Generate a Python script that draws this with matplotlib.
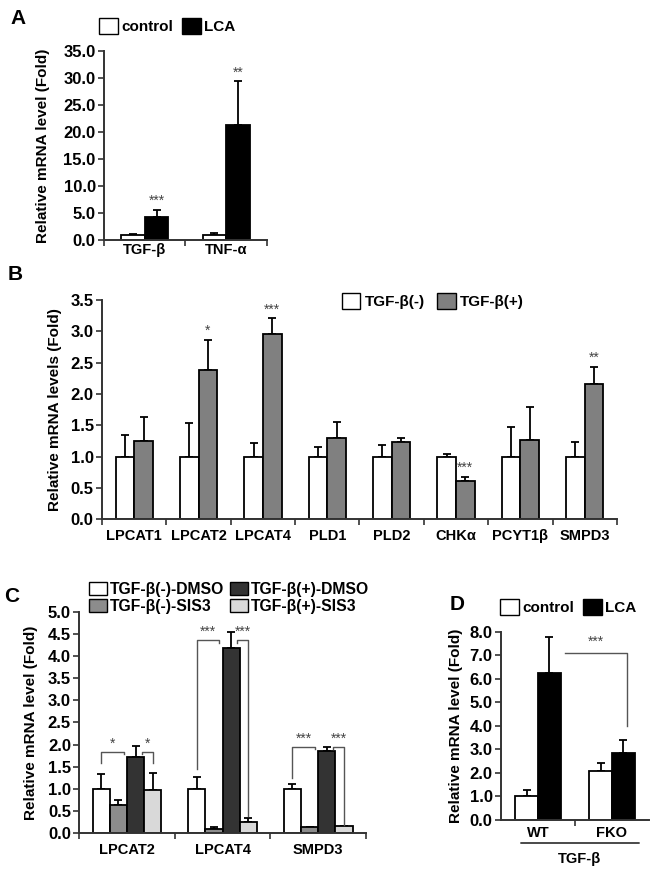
import numpy as np
import matplotlib
matplotlib.use('Agg')
import matplotlib.pyplot as plt
from matplotlib.patches import Patch

plt.rcParams['font.family'] = ['Liberation Sans', 'DejaVu Sans']
plt.rcParams['font.weight'] = 'bold'
plt.rcParams['axes.labelweight'] = 'bold'

# ---- Panel A ----
a_groups = ['TGF-β', 'TNF-α']
a_control = [1.0, 1.0]
a_control_err = [0.1, 0.35]
a_lca = [4.2, 21.3]
a_lca_err = [1.4, 8.1]
a_stars = ['***', '**']

# ---- Panel B ----
b_genes = ['LPCAT1', 'LPCAT2', 'LPCAT4', 'PLD1', 'PLD2', 'CHKα', 'PCYT1β', 'SMPD3']
b_minus = [1.0, 1.0, 1.0, 1.0, 1.0, 1.0, 1.0, 1.0]
b_minus_err = [0.34, 0.54, 0.22, 0.16, 0.18, 0.05, 0.47, 0.24]
b_plus = [1.25, 2.39, 2.95, 1.30, 1.24, 0.61, 1.27, 2.16]
b_plus_err = [0.38, 0.47, 0.26, 0.25, 0.05, 0.07, 0.53, 0.27]
b_stars = ['', '*', '***', '', '', '***', '', '**']

# ---- Panel C ----
c_genes = ['LPCAT2', 'LPCAT4', 'SMPD3']
c_minus_dmso = [1.0, 1.0, 1.0]
c_minus_dmso_err = [0.33, 0.26, 0.11]
c_minus_sis3 = [0.64, 0.09, 0.13]
c_minus_sis3_err = [0.12, 0.04, 0.02]
c_plus_dmso = [1.73, 4.19, 1.86]
c_plus_dmso_err = [0.24, 0.35, 0.08]
c_plus_sis3 = [0.98, 0.26, 0.16]
c_plus_sis3_err = [0.39, 0.09, 0.01]
c_sig_height = [1.84, 4.36, 1.95]
c_sig_left_end = [1.59, 1.44, 1.24]
c_sig_right_end = [1.59, 0.38, 0.19]
c_stars_left = ['*', '***', '***']
c_stars_right = ['*', '***', '***']

# ---- Panel D ----
d_groups = ['WT', 'FKO']
d_control = [1.0, 2.1]
d_control_err = [0.27, 0.31]
d_lca = [6.26, 2.85]
d_lca_err = [1.53, 0.56]
d_sig_height = 7.11
d_sig_end = 4.0

EDGE = 'black'
AXC = '#333333'
STARC = '#444444'


def style_axes(ax, n, labels, ymax, step, pad):
    for s in ['top', 'right']:
        ax.spines[s].set_visible(False)
    for s in ['left', 'bottom']:
        ax.spines[s].set_color(AXC)
        ax.spines[s].set_linewidth(1.4)
    ax.set_xlim(-0.5, n - 0.5)
    ax.set_ylim(0, ymax)
    ax.set_yticks(np.arange(0, ymax + step / 2, step))
    ax.set_yticklabels(['%.1f' % v for v in np.arange(0, ymax + step / 2, step)])
    ax.set_xticks(np.arange(-0.5, n, 1.0))
    ax.set_xticklabels([])
    ax.set_xticks(np.arange(n), minor=True)
    ax.set_xticklabels(labels, minor=True)
    ax.tick_params(axis='x', which='major', length=4, width=1.2, color=AXC)
    ax.tick_params(axis='x', which='minor', length=0, pad=pad, labelsize=10.5)
    ax.tick_params(axis='y', length=4, width=1.2, color=AXC, labelsize=12, pad=2)


def bars(ax, x, h, err, w, color):
    ax.bar(x, h, w, color=color, edgecolor=EDGE, linewidth=1.3, zorder=2)
    ax.errorbar(x, h, yerr=[np.zeros(len(h)), err], fmt='none', ecolor='black',
                elinewidth=1.3, capsize=3, capthick=1.3, zorder=1)


def stars(ax, x, y, s):
    ax.text(x, y, s, ha='center', va='bottom', fontsize=10, fontweight='normal', color=STARC)


fig = plt.figure(figsize=(6.64, 8.75), dpi=100)

# ---------- A ----------
ax = fig.add_axes([0.1566, 0.7257, 0.2455, 0.2163])
x = np.arange(len(a_groups))
w = 0.29
bars(ax, x - w / 2, a_control, a_control_err, w, 'white')
bars(ax, x + w / 2, a_lca, a_lca_err, w, 'black')
for i, s in enumerate(a_stars):
    stars(ax, x[i] + w / 2, a_lca[i] + a_lca_err[i] + 0.3, s)
style_axes(ax, len(a_groups), a_groups, 35, 5, 2)
ax.set_ylabel('Relative mRNA level (Fold)', fontsize=11, labelpad=10)
ax.legend(handles=[Patch(facecolor='white', edgecolor='black', label='control'),
                   Patch(facecolor='black', edgecolor='black', label='LCA')],
          loc='center left', bbox_to_anchor=(99 / 664, 1 - 26 / 875), bbox_transform=fig.transFigure,
          ncol=2, frameon=False, fontsize=11, handlelength=1.25, handleheight=1.2,
          handletextpad=0.2, columnspacing=0.6, borderpad=0, borderaxespad=0)

# ---------- B ----------
ax = fig.add_axes([0.1536, 0.4065, 0.7756, 0.2506])
x = np.arange(len(b_genes))
w = 0.29
bars(ax, x - w / 2, b_minus, b_minus_err, w, 'white')
bars(ax, x + w / 2, b_plus, b_plus_err, w, '#808080')
for i, s in enumerate(b_stars):
    if s:
        stars(ax, x[i] + w / 2, b_plus[i] + b_plus_err[i] + 0.03, s)
style_axes(ax, len(b_genes), b_genes, 3.5, 0.5, 7)
ax.set_ylabel('Relative mRNA levels (Fold)', fontsize=11, labelpad=6)
ax.legend(handles=[Patch(facecolor='white', edgecolor='black', label='TGF-β(-)'),
                   Patch(facecolor='#808080', edgecolor='black', label='TGF-β(+)')],
          loc='center left', bbox_to_anchor=(342 / 664, 1 - 301 / 875), bbox_transform=fig.transFigure,
          ncol=2, frameon=False, fontsize=11, handlelength=1.2, handleheight=1.2,
          handletextpad=0.3, columnspacing=0.8, borderpad=0, borderaxespad=0)

# ---------- C ----------
ax = fig.add_axes([0.1194, 0.0477, 0.4318, 0.2533])
x = np.arange(len(c_genes))
w = 0.18
offs = [-1.5 * w, -0.5 * w, 0.5 * w, 1.5 * w]
bars(ax, x + offs[0], c_minus_dmso, c_minus_dmso_err, w, 'white')
bars(ax, x + offs[1], c_minus_sis3, c_minus_sis3_err, w, '#8c8c8c')
bars(ax, x + offs[2], c_plus_dmso, c_plus_dmso_err, w, '#333333')
bars(ax, x + offs[3], c_plus_sis3, c_plus_sis3_err, w, '#d9d9d9')
for i in range(len(c_genes)):
    yh = c_sig_height[i]
    x1, x2 = x[i] + offs[0], x[i] - 0.035
    ax.plot([x1, x1, x2, x2], [c_sig_left_end[i], yh, yh, yh - 0.06], color='#555555', lw=1)
    stars(ax, (x1 + x2) / 2, yh + 0.02, c_stars_left[i])
    x3, x4 = x[i] + 0.155, x[i] + offs[3]
    ax.plot([x3, x3, x4, x4], [yh - 0.06, yh, yh, c_sig_right_end[i]], color='#555555', lw=1)
    stars(ax, (x3 + x4) / 2, yh + 0.02, c_stars_right[i])
style_axes(ax, len(c_genes), c_genes, 5.0, 0.5, 7)
ax.set_ylabel('Relative mRNA level (Fold)', fontsize=11, labelpad=7)
ax.legend(handles=[Patch(facecolor='white', edgecolor='black', label='TGF-β(-)-DMSO'),
                   Patch(facecolor='#8c8c8c', edgecolor='black', label='TGF-β(-)-SIS3'),
                   Patch(facecolor='#333333', edgecolor='black', label='TGF-β(+)-DMSO'),
                   Patch(facecolor='#d9d9d9', edgecolor='black', label='TGF-β(+)-SIS3')],
          loc='upper left', bbox_to_anchor=(89 / 664, 1 - 582 / 875), bbox_transform=fig.transFigure,
          ncol=2, frameon=False, fontsize=11.3, handlelength=1.15, handleheight=0.9,
          handletextpad=0.2, columnspacing=0.35, labelspacing=0.1, borderpad=0, borderaxespad=0)

# ---------- D ----------
ax = fig.add_axes([0.7545, 0.0629, 0.2229, 0.2152])
x = np.arange(len(d_groups))
w = 0.31
bars(ax, x - w / 2, d_control, d_control_err, w, 'white')
bars(ax, x + w / 2, d_lca, d_lca_err, w, 'black')
x1, x2 = x[0] + w + 0.05, x[1] + w / 2 + 0.05
ax.plot([x1, x2, x2], [d_sig_height, d_sig_height, d_sig_end], color='#555555', lw=1)
stars(ax, (x1 + x2) / 2, d_sig_height + 0.15, '***')
style_axes(ax, len(d_groups), d_groups, 8.0, 1.0, 4)
ax.set_xticks([0.5])
ax.tick_params(axis='x', which='major', length=4)
ax.set_ylabel('Relative mRNA level (Fold)', fontsize=11, labelpad=5)
ax.annotate('', xy=(518 / 664, 1 - 843 / 875), xytext=(642 / 664, 1 - 843 / 875),
            xycoords='figure fraction', arrowprops=dict(arrowstyle='-', color='black', lw=1))
fig.text(580 / 664, 1 - 859 / 875, 'TGF-β', ha='center', va='center', fontsize=10.5)
ax.legend(handles=[Patch(facecolor='white', edgecolor='black', label='control'),
                   Patch(facecolor='black', edgecolor='black', label='LCA')],
          loc='center left', bbox_to_anchor=(500 / 664, 1 - 607 / 875), bbox_transform=fig.transFigure,
          ncol=2, frameon=False, fontsize=11, handlelength=1.25, handleheight=1.2,
          handletextpad=0.2, columnspacing=0.6, borderpad=0, borderaxespad=0)

# panel letters
for lab, px, py in [('A', 18, 18), ('B', 15, 275), ('C', 12, 597), ('D', 457, 605)]:
    fig.text(px / 664, 1 - py / 875, lab, ha='center', va='center', fontsize=15, fontweight='bold')

plt.savefig('out.png', dpi=100)
